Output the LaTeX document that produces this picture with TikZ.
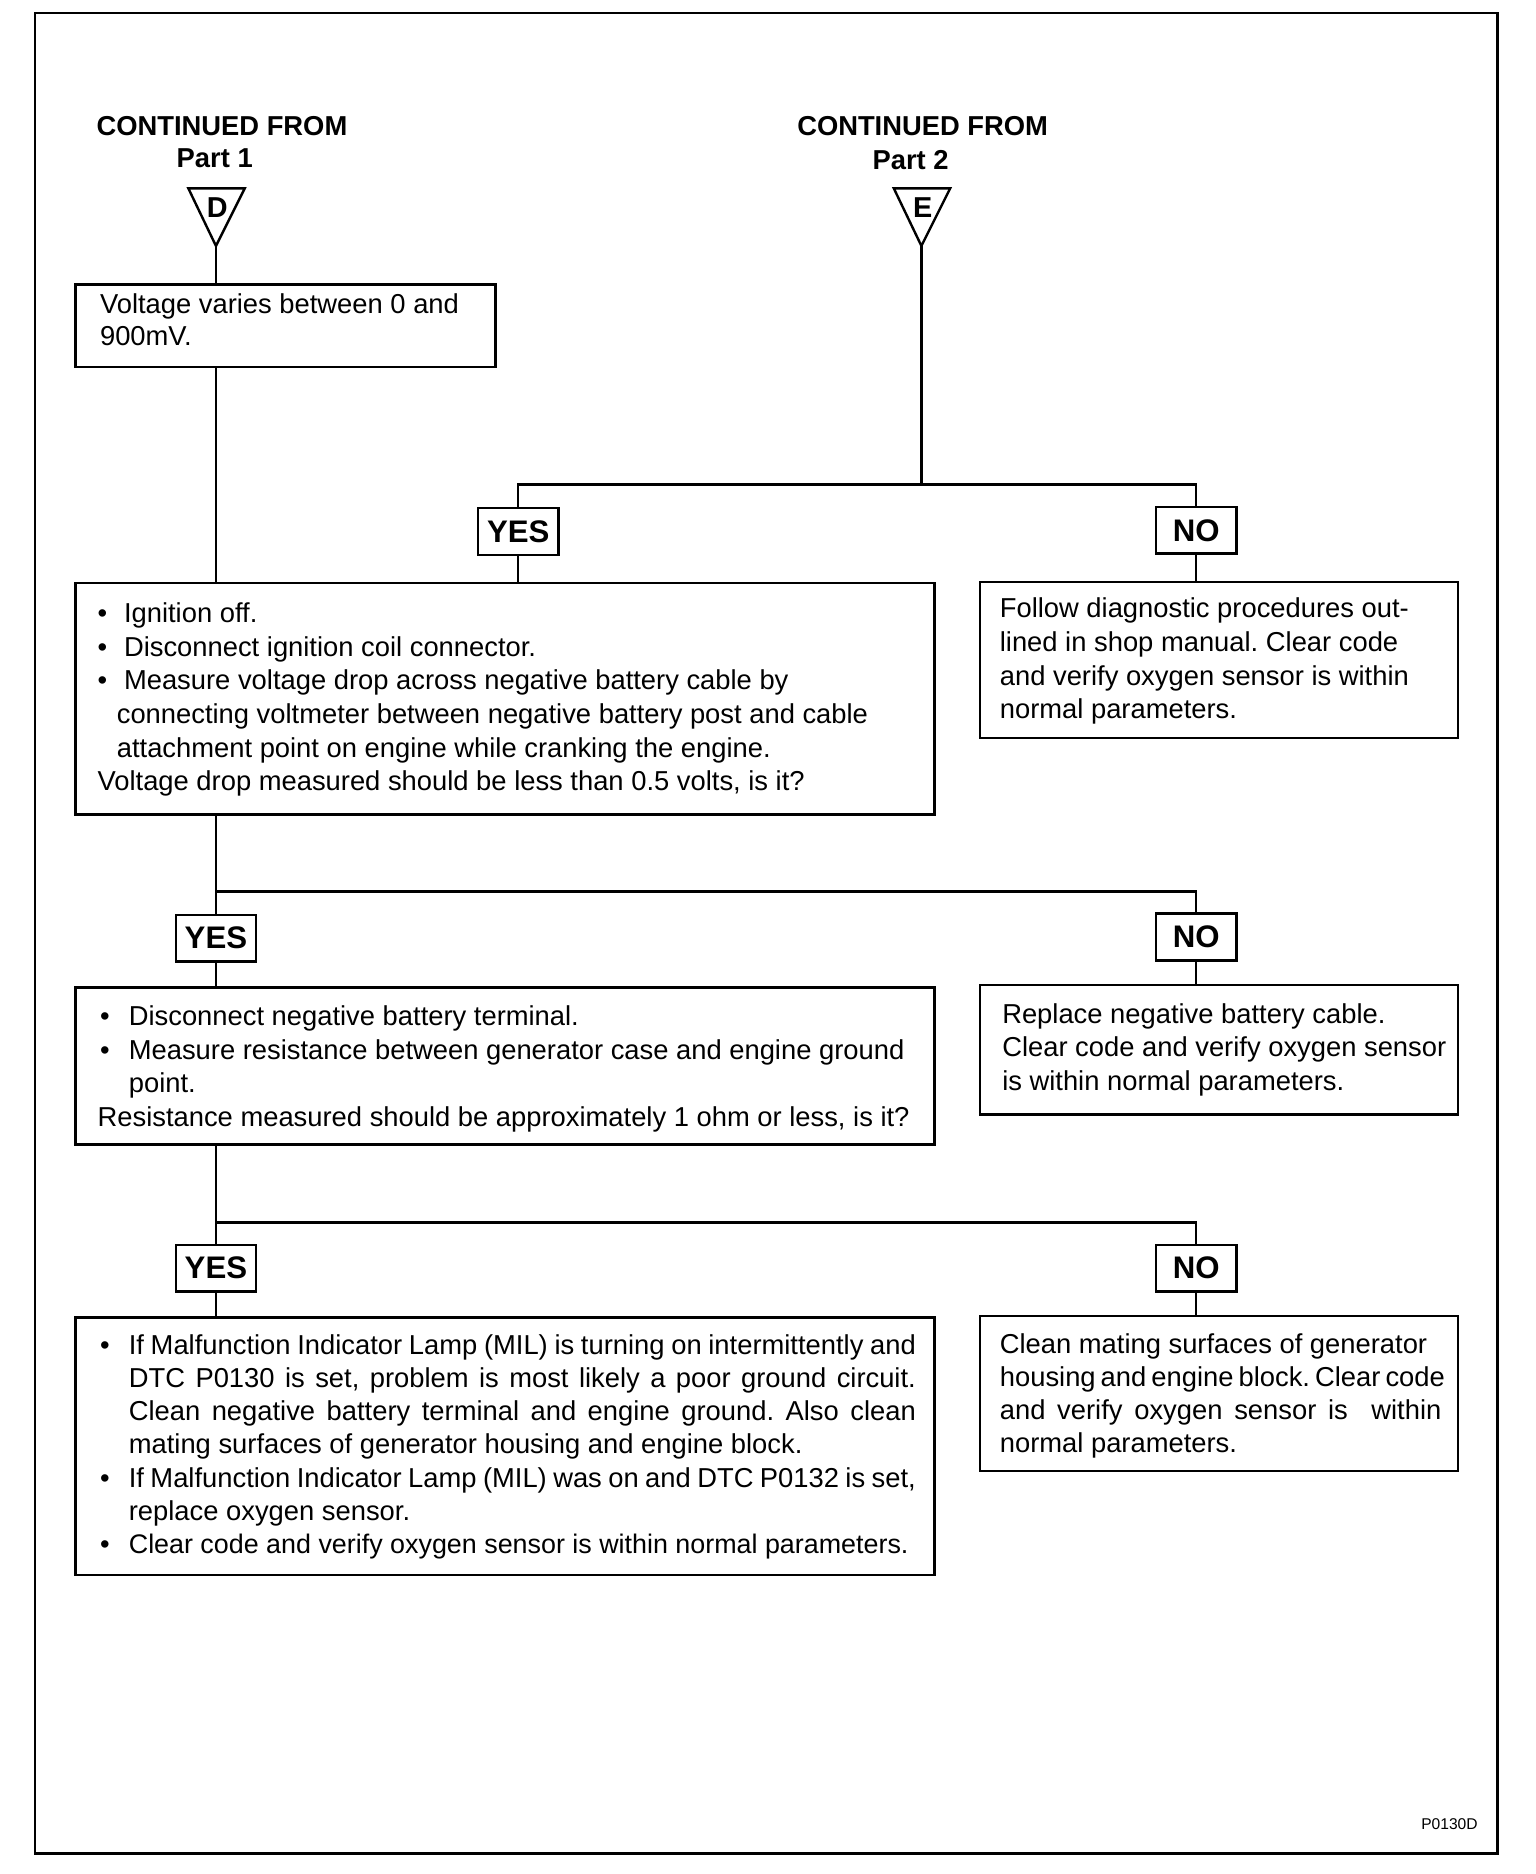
\documentclass[tikz,border=0pt]{standalone}
\usepackage{fontspec}
\setmainfont{Liberation Sans}
\usetikzlibrary{fit}
\frenchspacing
\newcommand\blta{\makebox[11pt][l]{•}}
\newcommand\bltb{\makebox[13pt][l]{\hspace{1pt}•}}
\newcommand\jl[2]{\makebox[#1][s]{#2}}
\tikzset{
 box/.style={draw, line width=1pt, inner sep=0pt},
 txt/.style={inner sep=0pt, align=left, anchor=base west, font=\fontsize{11.4}{14}\selectfont\frenchspacing},
 yn/.style={draw, line width=1pt, minimum width=33.5pt, minimum height=19.5pt, inner sep=0pt, fill=white, font=\fontsize{13}{13}\bfseries\selectfont},
 conn/.style={line width=1pt},
 head/.style={inner sep=0pt, anchor=base, font=\fontsize{11.4}{14}\bfseries\selectfont},
 tri/.style={line width=1pt, line join=miter},
}
\begin{document}
\begin{tikzpicture}[x=0.5pt, y=-0.5pt]
\useasboundingbox (0,0) rectangle (1280,1562);
\draw[line width=1pt] (29,11) rectangle (1248,1545);

% headings
\node[head] (h1) at (185,113) {CONTINUED FROM};
\node[head] (h1b) at (179,140) {Part 1};
\node[head] (h2) at (769,113) {CONTINUED FROM};
\node[head] (h2b) at (759,141) {Part 2};

% triangles
\coordinate (tD) at (180,205);
\draw[tri] (157,157) -- (204,157) -- (tD) -- cycle;
\node[head, font=\fontsize{12}{12}\bfseries\selectfont] (lD) at (181,181) {D};
\coordinate (tE) at (768,205);
\draw[tri] (745,157) -- (792,157) -- (tE) -- cycle;
\node[head, font=\fontsize{12}{12}\bfseries\selectfont] (lE) at (769,181) {E};

% boxes
\node[box, fit={(63,237)(413,306)}] (b1) {};
\node[box, fit={(63,486)(779,679)}] (b2) {};
\node[box, fit={(817,485)(1215,615)}] (b3) {};
\node[box, fit={(63,823)(779,954)}] (b4) {};
\node[box, fit={(817,821)(1215,929)}] (b5) {};
\node[box, fit={(63,1098)(779,1313)}] (b6) {};
\node[box, fit={(817,1097)(1215,1226)}] (b7) {};

% yes/no
\node[yn] (y1) at (432,443) {YES};
\node[yn] (n1) at (997,442) {NO};
\node[yn] (y2) at (180,782) {YES};
\node[yn] (n2) at (997,781) {NO};
\node[yn] (y3) at (180,1057) {YES};
\node[yn] (n3) at (997,1057) {NO};

\coordinate (j1) at (768,404);
\coordinate (j2) at (180,743);
\coordinate (j3) at (180,1019);

% connectors
\draw[conn] (tD) -- (tD |- b1.north);
\draw[conn] (tD |- b1.south) -- (tD |- b2.north);
\draw[conn] (tE) -- (j1);
\draw[conn] (y1.north) -- (y1.north |- j1) -- (n1.north |- j1) -- (n1.north);
\draw[conn] (y1.south) -- (y1.south |- b2.north);
\draw[conn] (n1.south) -- (n1.south |- b3.north);
\draw[conn] (tD |- b2.south) -- (y2.north);
\draw[conn] (j2) -- (j2 -| n2.north) -- (n2.north);
\draw[conn] (y2.south) -- (y2.south |- b4.north);
\draw[conn] (n2.south) -- (n2.south |- b5.north);
\draw[conn] (tD |- b4.south) -- (y3.north);
\draw[conn] (j3) -- (j3 -| n3.north) -- (n3.north);
\draw[conn] (y3.south) -- (y3.south |- b6.north);
\draw[conn] (n3.south) -- (n3.south |- b7.north);

% texts (anchor = baseline of the last line)
\node[txt, font=\fontsize{11.4}{13.5}\selectfont] (t1) at (83,288) {Voltage varies between 0 and\\900mV.};
\node[txt] (t2) at (81,659) {\blta Ignition off.\\
\blta Disconnect ignition coil connector.\\
\blta Measure voltage drop across negative battery cable by\\
\hspace*{8pt}connecting voltmeter between negative battery post and cable\\
\hspace*{8pt}attachment point on engine while cranking the engine.\\
Voltage drop measured should be less than 0.5 volts, is it?};
\node[txt] (t3) at (833,599) {Follow diagnostic procedures out-\\
lined in shop manual. Clear code\\
and verify oxygen sensor is within\\
normal parameters.};
\node[txt] (t4) at (81,939) {\bltb Disconnect negative battery terminal.\\
\bltb Measure resistance between generator case and engine ground\\
\hspace*{13pt}point.\\
Resistance measured should be approximately 1 ohm or less, is it?};
\node[txt] (t5) at (835,909) {Replace negative battery cable.\\
Clear code and verify oxygen sensor\\
is within normal parameters.};
\node[txt, font=\fontsize{11.4}{13.85}\selectfont] (t6) at (81,1295) {\bltb\jl{328pt}{If Malfunction Indicator Lamp (MIL) is turning on intermittently and}\\
\hspace*{13pt}\jl{328pt}{DTC P0130 is set, problem is most likely a poor ground circuit.}\\
\hspace*{13pt}\jl{328pt}{Clean negative battery terminal and engine ground. Also clean}\\
\hspace*{13pt}mating surfaces of generator housing and engine block.\\
\bltb\jl{328pt}{If Malfunction Indicator Lamp (MIL) was on and DTC P0132 is set,}\\
\hspace*{13pt}replace oxygen sensor.\\
\bltb{\fontsize{11.2}{13.85}\selectfont Clear code and verify oxygen sensor is within normal parameters.}};
\node[txt, font=\fontsize{11.4}{13.85}\selectfont] (t7) at (833,1211) {Clean mating surfaces of generator\\
\jl{184pt}{housing and engine block. Clear code}\\
\jl{184pt}{and verify oxygen sensor is \ within}\\
normal parameters.};

\node[inner sep=0pt, anchor=base east, font=\fontsize{6.5}{7}\selectfont] (code) at (1232,1525) {P0130D};
\end{tikzpicture}
\end{document}
